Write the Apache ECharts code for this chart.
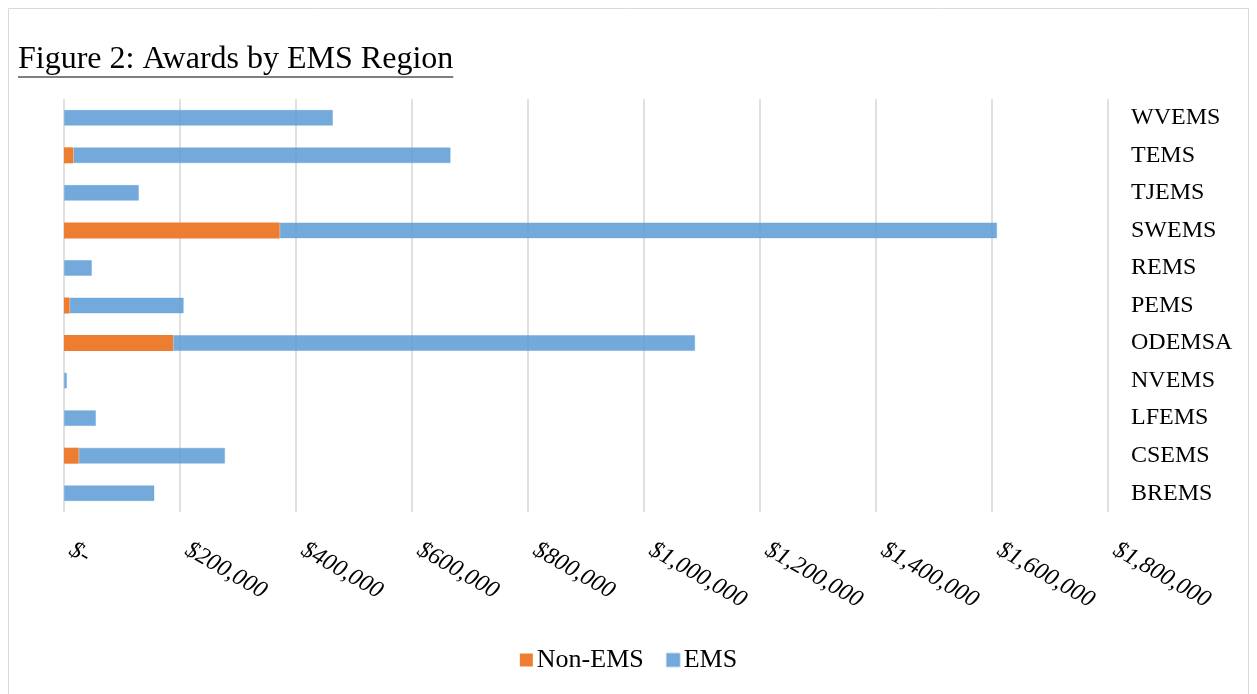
<!DOCTYPE html>
<html>
<head>
<meta charset="utf-8">
<script src="https://cdn.jsdelivr.net/npm/echarts@6/dist/echarts.min.js"></script>
<style>
  html, body { margin: 0; padding: 0; background: #fff; }
  #chart { width: 1257px; height: 694px; }
</style>
</head>
<body>
<div id="chart"></div>
<script>
// EMS regions, listed bottom to top as the category axis draws them
const regions = ['BREMS', 'CSEMS', 'LFEMS', 'NVEMS', 'ODEMSA', 'PEMS', 'REMS', 'SWEMS', 'TJEMS', 'TEMS', 'WVEMS'];
// Award dollars per region
const nonEmsAwards = [0, 25400, 0, 0, 188100, 9800, 0, 371900, 0, 16200, 0];
const emsAwards = [156000, 252400, 55200, 5200, 900200, 196800, 48300, 1237000, 129300, 650500, 463800];
// Value-axis tick labels, one per 200,000 step
const tickLabels = ['$-', '$200,000', '$400,000', '$600,000', '$800,000', '$1,000,000',
  '$1,200,000', '$1,400,000', '$1,600,000', '$1,800,000'];
const tickStep = 200000;

const titleText = 'Figure 2: Awards by EMS Region';
const serif = '"Liberation Serif", "Times New Roman", serif';
const titleFont = '32px ' + serif;

// measure the title so the underline spans it exactly
const measureCtx = document.createElement('canvas').getContext('2d');
measureCtx.font = titleFont;
const titleWidth = measureCtx.measureText(titleText).width;

const chart = echarts.init(document.getElementById('chart'), null, { renderer: 'canvas' });

chart.setOption({
  animation: false,
  backgroundColor: '#fff',
  graphic: [
    {
      type: 'rect', silent: true, z: -10,
      shape: { x: 8.5, y: 8.5, width: 1240, height: 720 },
      style: { fill: 'none', stroke: '#d9d9d9', lineWidth: 1 }
    },
    {
      type: 'text', left: 18, top: 44,
      style: { text: titleText, font: titleFont, fill: '#000' }
    },
    {
      type: 'line', silent: true,
      shape: { x1: 18, y1: 77, x2: 18 + titleWidth, y2: 77 },
      style: { stroke: '#000', lineWidth: 1.2 }
    }
  ],
  legend: {
    bottom: 16,
    left: 'center',
    itemWidth: 13,
    itemHeight: 13,
    itemGap: 22,
    icon: 'rect',
    textStyle: { fontFamily: serif, fontSize: 26, color: '#000', padding: [0, 0, 0, -1] },
    data: ['Non-EMS', 'EMS']
  },
  grid: { left: 64, right: 149, top: 99, bottom: 182, containLabel: false },
  xAxis: {
    type: 'value',
    min: 0,
    max: 1800000,
    interval: tickStep,
    axisLine: { show: false },
    axisTick: { show: false },
    splitLine: { show: true, lineStyle: { color: '#d9d9d9', width: 1.6 } },
    axisLabel: {
      rotate: -30,
      margin: 32,
      padding: [0, 0, 0, 8],
      fontFamily: serif,
      fontStyle: 'italic',
      fontSize: 24,
      color: '#000',
      formatter: v => tickLabels[Math.round(v / tickStep)]
    }
  },
  yAxis: {
    type: 'category',
    position: 'right',
    data: regions,
    axisLine: { show: false },
    axisTick: { show: false },
    axisLabel: {
      align: 'left',
      margin: 23,
      fontFamily: serif,
      fontSize: 24,
      color: '#000'
    }
  },
  series: [
    {
      name: 'Non-EMS',
      type: 'bar',
      stack: 'awards',
      barWidth: 16,
      data: nonEmsAwards,
      itemStyle: { color: '#ED7D31' }
    },
    {
      name: 'EMS',
      type: 'bar',
      stack: 'awards',
      barWidth: 16,
      data: emsAwards,
      itemStyle: { color: 'rgba(91,155,213,0.85)', borderColor: 'rgba(91,155,213,0.35)', borderWidth: 1 }
    }
  ]
});
</script>
</body>
</html>
